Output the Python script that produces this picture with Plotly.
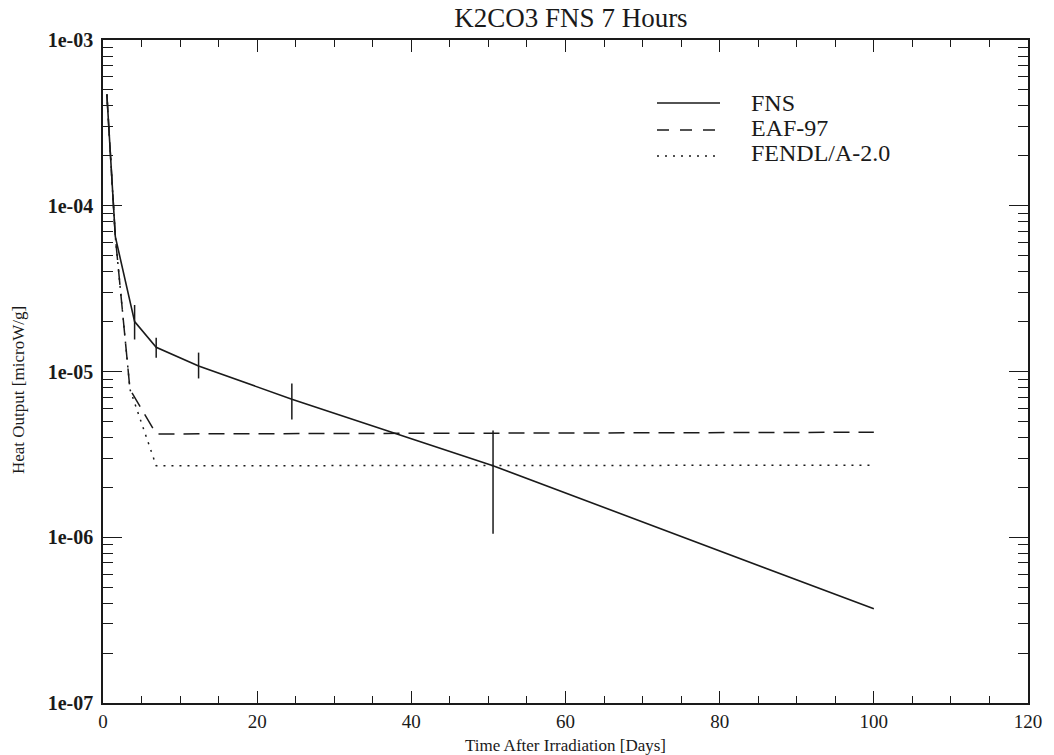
import plotly.graph_objects as go

# ---- data ----
t_fns = [0.5, 1.6, 4.1, 6.9, 12.4, 24.5, 50.6, 100.0]
fns = [4.7e-4, 6.5e-5, 2.0e-5, 1.40e-5, 1.08e-5, 6.8e-6, 2.7e-6, 3.7e-7]
fns_err_plus = [0, 0, 5.2e-6, 2.0e-6, 2.2e-6, 1.67e-6, 1.7e-6, 0]
fns_err_minus = [0, 0, 4.4e-6, 1.9e-6, 1.72e-6, 1.66e-6, 1.65e-6, 0]

t_eaf = [0.5, 1.6, 3.5, 6.9, 100.0]
eaf = [4.7e-4, 6.5e-5, 7.8e-6, 4.2e-6, 4.3e-6]

t_fendl = [0.5, 1.6, 3.5, 6.9, 100.0]
fendl = [4.7e-4, 6.5e-5, 7.8e-6, 2.7e-6, 2.72e-6]

series_names = ["FNS", "EAF-97", "FENDL/A-2.0"]

y_tickvals = [1e-7, 1e-6, 1e-5, 1e-4, 1e-3]
y_ticktext = ["1e-07", "1e-06", "1e-05", "1e-04", "1e-03"]
x_tickvals = [0, 20, 40, 60, 80, 100, 120]

FONT = "Liberation Serif"
INK = "#1a1a1a"
W, H = 1054, 755
ML, MR, MT, MB = 103, 26, 40, 52
PW, PH = W - ML - MR, H - MT - MB


def px_x(px):
    return (px - ML) / PW


def px_y(py):
    return (H - MB - py) / PH


styles = [
    dict(color=INK, width=1.6),
    dict(color=INK, width=1.5, dash="16px,9px"),
    dict(color=INK, width=1.5, dash="2px,6px"),
]
legend_dash = [None, "12px,11px", "2px,6px"]

fig = go.Figure()
fig.add_trace(go.Scatter(
    x=t_fns, y=fns, mode="lines", name=series_names[0], line=styles[0],
    error_y=dict(type="data", symmetric=False, array=fns_err_plus,
                 arrayminus=fns_err_minus, width=0, thickness=1.5, color=INK),
))
fig.add_trace(go.Scatter(x=t_eaf, y=eaf, mode="lines", name=series_names[1], line=styles[1]))
fig.add_trace(go.Scatter(x=t_fendl, y=fendl, mode="lines", name=series_names[2], line=styles[2]))

# legend drawn in the style of the original (long samples, tight rows)
leg_text_y = [103, 128, 153]
leg_line_y = [103, 130, 156]
annotations = []
shapes = []
for name, ty, ly, st, ld in zip(series_names, leg_text_y, leg_line_y, styles, legend_dash):
    annotations.append(dict(
        text=name, xref="paper", yref="paper", x=px_x(749), y=px_y(ty),
        xanchor="left", yanchor="middle", showarrow=False,
        font=dict(size=24, family=FONT, color=INK)))
    line = dict(color=INK, width=1.5)
    if ld:
        line["dash"] = ld
    shapes.append(dict(type="line", xref="paper", yref="paper",
                       x0=px_x(657), x1=px_x(720), y0=px_y(ly), y1=px_y(ly), line=line))

# y axis title
annotations.append(dict(
    text="Heat Output [microW/g]", xref="paper", yref="paper",
    x=px_x(18), y=px_y(390), xanchor="center", yanchor="middle", textangle=-90,
    showarrow=False, font=dict(size=17, family=FONT, color=INK)))

fig.update_layout(
    width=W, height=H,
    margin=dict(l=ML, r=MR, t=MT, b=MB),
    paper_bgcolor="white", plot_bgcolor="white",
    font=dict(family=FONT, color=INK),
    title=dict(text="K2CO3 FNS 7 Hours", x=571 / W, xanchor="center",
               y=1 - 18 / H, yanchor="middle", font=dict(size=27, family=FONT, color=INK)),
    showlegend=False,
    annotations=annotations,
    shapes=shapes,
)

fig.update_xaxes(
    range=[0, 120], tickvals=x_tickvals,
    showline=True, linecolor=INK, linewidth=1.5, mirror="allticks",
    ticks="inside", ticklen=12, tickwidth=1.3, tickcolor=INK,
    minor=dict(ticks="inside", ticklen=7, dtick=5, tickwidth=1.2, tickcolor=INK, showgrid=False),
    showgrid=False, zeroline=False, automargin=False,
    tickfont=dict(size=19, family=FONT, color=INK),
    title=dict(text="Time After Irradiation [Days]", font=dict(size=17, family=FONT, color=INK), standoff=10),
)
fig.update_yaxes(
    type="log", range=[-7, -3], tickvals=y_tickvals, ticktext=y_ticktext,
    showline=True, linecolor=INK, linewidth=1.5, mirror="allticks",
    ticks="inside", ticklen=19, tickwidth=1.3, tickcolor=INK,
    minor=dict(ticks="inside", ticklen=10, dtick="D1", tickwidth=1.2, tickcolor=INK, showgrid=False),
    showgrid=False, zeroline=False, automargin=False,
    ticklabelstandoff=4,
    tickfont=dict(size=20, family=FONT, color=INK, weight="bold"),
)

fig.write_html("out.html")
